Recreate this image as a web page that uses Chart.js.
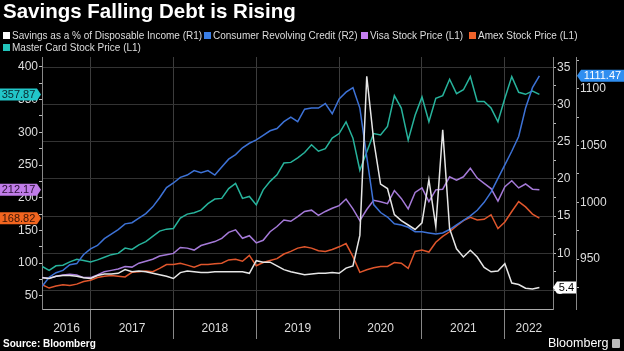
<!DOCTYPE html>
<html>
<head>
<meta charset="utf-8">
<script src="https://cdn.jsdelivr.net/npm/chart.js@4.4.1/dist/chart.umd.min.js"></script>
<style>
  html, body { margin: 0; padding: 0; background: #000; }
  #wrap { position: relative; width: 624px; height: 351px; overflow: hidden; font-family: "Liberation Sans", Arial, sans-serif; color: #ddd; }
  #grafico { position: absolute; left: 0; top: 0; }
  .titulo { position: absolute; left: 3px; top: -1px; font-size: 20.5px; font-weight: bold; color: #fff; }
  .leg { position: absolute; font-size: 10px; color: #ddd; white-space: nowrap; line-height: 11px; }
  .leg i { display: inline-block; width: 7px; height: 7px; margin-right: 2px; }
  .fonte { position: absolute; left: 3px; top: 338px; font-size: 10px; font-weight: bold; color: #fff; }
  .marca { position: absolute; left: 548px; top: 336px; font-size: 12.5px; color: #fff; }
  .marca b { display: inline-block; width: 8px; height: 9px; background: #bbb; border-radius: 1px; margin-left: 4px; vertical-align: -1px; }
</style>
</head>
<body>
<div id="wrap">
  <canvas id="grafico" width="624" height="351"></canvas>
  <div class="titulo">Savings Falling Debt is Rising</div>
  <div class="leg" style="left:3px;top:30px"><i style="background:#fff"></i>Savings as a % of Disposable Income (R1)</div>
  <div class="leg" style="left:204px;top:30px"><i style="background:#3a7ee6"></i>Consumer Revolving Credit (R2)</div>
  <div class="leg" style="left:361px;top:30px"><i style="background:#c47ef0"></i>Visa Stock Price (L1)</div>
  <div class="leg" style="left:469px;top:30px"><i style="background:#f0632a"></i>Amex Stock Price (L1)</div>
  <div class="leg" style="left:3px;top:42px"><i style="background:#22c4bb"></i>Master Card Stock Price (L1)</div>
  <div class="fonte">Source: Bloomberg</div>
  <div class="marca">Bloomberg<b></b></div>
</div>
<script>
// meses: fim de maio/2016 até fim de maio/2022
const mesInicial = 2016 + 5 / 12;

const poupanca = [6.7, 6.6, 6.9, 7.0, 7.0, 6.9, 6.7, 6.6, 7.0, 7.2, 7.2, 7.3, 7.8, 7.5, 7.6, 7.5, 7.3, 7.1, 6.9,
  6.6, 7.4, 7.6, 7.5, 7.4, 7.4, 7.5, 7.5, 7.5, 7.5, 7.5, 7.3, 9.0, 8.8, 8.8, 8.3, 7.8, 7.5,
  7.3, 7.1, 7.2, 7.3, 7.3, 7.4, 7.3, 8.0, 8.3, 12.4, 33.8, 25.2, 19.3, 18.7, 15.2, 14.4, 13.8, 13.2,
  14.1, 19.9, 13.6, 26.6, 13.3, 10.6, 9.5, 10.4, 9.5, 8.1, 7.5, 7.6, 8.6, 6.0, 5.8, 5.3, 5.2, 5.4];

const credito = [926, 934, 938, 940, 945, 946, 954, 959, 962, 968, 972, 976, 981, 982, 986, 990, 996, 1004, 1013,
  1017, 1022, 1024, 1028, 1026, 1028, 1024, 1031, 1038, 1042, 1048, 1052, 1055, 1059, 1063, 1065, 1071, 1075,
  1071, 1082, 1083, 1083, 1087, 1078, 1091, 1097, 1101, 1083, 1040, 998, 991, 987, 981, 980, 978, 974,
  974, 973, 972, 973, 976, 980, 984, 988, 993, 1000, 1009, 1021, 1033, 1045, 1058, 1083, 1101, 1111.47];

const visa = [78, 77, 80, 82, 83, 82, 78, 78, 82, 87, 89, 91, 95, 94, 100, 103, 106, 111, 113,
  115, 124, 123, 120, 127, 130, 133, 138, 147, 151, 138, 142, 131, 135, 148, 156, 166, 164,
  171, 179, 181, 173, 179, 184, 188, 198, 183, 165, 182, 196, 194, 191, 211, 199, 183, 208,
  215, 194, 212, 213, 232, 227, 232, 245, 230, 222, 214, 195, 217, 226, 215, 221, 213, 212.17];

const amex = [67, 62, 65, 67, 66, 68, 72, 74, 78, 80, 81, 80, 79, 86, 87, 88, 87, 92, 98,
  98, 100, 97, 94, 98, 98, 99, 100, 105, 106, 103, 112, 96, 101, 104, 107, 114, 118,
  123, 125, 123, 119, 118, 121, 125, 130, 110, 86, 90, 93, 95, 95, 101, 100, 92, 118,
  120, 117, 132, 141, 148, 157, 165, 170, 166, 167, 174, 153, 163, 179, 194, 186, 175, 168.82];

const mastercard = [95, 89, 96, 97, 102, 106, 104, 102, 105, 109, 113, 115, 123, 121, 128, 133, 141, 149, 152,
  153, 169, 175, 177, 181, 191, 198, 199, 214, 222, 199, 202, 189, 212, 225, 235, 253, 254,
  261, 269, 281, 271, 275, 291, 298, 316, 291, 242, 270, 298, 296, 309, 356, 337, 288, 326,
  354, 316, 352, 356, 381, 359, 365, 385, 347, 347, 337, 316, 352, 385, 361, 358, 363, 357.87];

// divisões de ano e posição dos rótulos de ano
const divisoesAno = [2017, 2018, 2019, 2020, 2021, 2022];
const rotulosAno = [2016.71, 2017.5, 2018.5, 2019.5, 2020.5, 2021.5, 2022.29];
const ticksEsq = [50, 75, 100, 125, 150, 175, 200, 225, 250, 275, 300, 325, 350, 375, 400];
const ticksR1 = [5, 7.5, 10, 12.5, 15, 17.5, 20, 22.5, 25, 27.5, 30, 32.5, 35];
const ticksR2 = [925, 950, 975, 1000, 1025, 1050, 1075, 1100, 1125];

const CORES = {
  poupanca: '#e6e6e6',
  credito: '#3d72d6',
  visa: '#a57ad8',
  amex: '#e0562c',
  mastercard: '#27b39c'
};

function pontos(valores) {
  return valores.map((v, i) => ({ x: mesInicial + i / 12, y: v }));
}

function serie(rotulo, valores, cor, eixo) {
  return {
    label: rotulo,
    data: pontos(valores),
    borderColor: cor,
    borderWidth: 1.5,
    pointRadius: 0,
    fill: false,
    tension: 0,
    yAxisID: eixo
  };
}

/* etiquetas com o último valor, no estilo Bloomberg */
function etiqueta(ctx, y, x0, x1, ponta, lado, fundo, corTexto, texto) {
  const h = 12;
  ctx.save();
  ctx.fillStyle = fundo;
  ctx.beginPath();
  if (lado === 'dir') {
    ctx.moveTo(x0, y - h / 2);
    ctx.lineTo(x1, y - h / 2);
    ctx.lineTo(ponta, y);
    ctx.lineTo(x1, y + h / 2);
    ctx.lineTo(x0, y + h / 2);
  } else {
    ctx.moveTo(ponta, y);
    ctx.lineTo(x0, y - h / 2);
    ctx.lineTo(x1, y - h / 2);
    ctx.lineTo(x1, y + h / 2);
    ctx.lineTo(x0, y + h / 2);
  }
  ctx.closePath();
  ctx.fill();
  ctx.fillStyle = corTexto;
  ctx.font = '11px "Liberation Sans", Arial, sans-serif';
  ctx.textAlign = 'center';
  ctx.textBaseline = 'middle';
  ctx.fillText(texto, (x0 + x1) / 2, y + 0.5);
  ctx.restore();
}

const pluginEtiquetas = {
  id: 'etiquetas',
  afterDraw(chart) {
    const ctx = chart.ctx;
    const yEsq = chart.scales.y;
    const yR1 = chart.scales.yR1;
    const yR2 = chart.scales.yR2;
    const ultimo = arr => arr[arr.length - 1];

    etiqueta(ctx, yEsq.getPixelForValue(ultimo(mastercard)), 0, 37, 41, 'dir', '#22c6c8', '#0a2a30', ultimo(mastercard).toFixed(2));
    etiqueta(ctx, yEsq.getPixelForValue(ultimo(visa)), 0, 37, 41, 'dir', '#c07ce8', '#2a1035', ultimo(visa).toFixed(2));
    etiqueta(ctx, yEsq.getPixelForValue(ultimo(amex)), 0, 37, 41, 'dir', '#f2651f', '#3a1405', ultimo(amex).toFixed(2));
    etiqueta(ctx, yR2.getPixelForValue(ultimo(credito)), 581, 624, 577, 'esq', '#2f8ef0', '#ffffff', ultimo(credito).toFixed(2));
    etiqueta(ctx, yR1.getPixelForValue(ultimo(poupanca)), 557, 576, 553, 'esq', '#ffffff', '#000000', ultimo(poupanca).toFixed(1));
  }
};

const fonteEixo = { family: '"Liberation Sans", Arial, sans-serif', size: 12 };

new Chart(document.getElementById('grafico').getContext('2d'), {
  type: 'line',
  data: {
    datasets: [
      serie('Savings as a % of Disposable Income (R1)', poupanca, CORES.poupanca, 'yR1'),
      serie('Consumer Revolving Credit (R2)', credito, CORES.credito, 'yR2'),
      serie('Visa Stock Price (L1)', visa, CORES.visa, 'y'),
      serie('Amex Stock Price (L1)', amex, CORES.amex, 'y'),
      serie('Master Card Stock Price (L1)', mastercard, CORES.mastercard, 'y')
    ]
  },
  options: {
    responsive: false,
    animation: false,
    devicePixelRatio: 1,
    layout: { padding: { top: 57, bottom: 10, left: 0, right: 0 } },
    plugins: { legend: { display: false }, tooltip: { enabled: false } },
    scales: {
      x: {
        type: 'linear',
        min: 2016.414,
        max: 2022.581,
        afterBuildTicks: s => { s.ticks = divisoesAno.concat(rotulosAno).map(v => ({ value: v })); },
        afterFit: s => { s.height = 32; },
        ticks: {
          color: '#ddd',
          font: fonteEixo,
          maxRotation: 0,
          autoSkip: false,
          padding: -18,
          callback: v => Number.isInteger(v) ? '' : String(Math.floor(v))
        },
        grid: {
          color: c => (c.tick && Number.isInteger(c.tick.value)) ? '#3c3c3c' : 'rgba(0,0,0,0)',
          tickColor: c => (c.tick && Number.isInteger(c.tick.value)) ? '#888' : 'rgba(0,0,0,0)',
          tickLength: 30
        },
        border: { color: '#aaa' }
      },
      y: {
        position: 'left',
        min: 30,
        max: 415,
        afterBuildTicks: s => { s.ticks = ticksEsq.map(v => ({ value: v })); },
        afterFit: s => { s.width = 42; },
        ticks: {
          color: '#ddd',
          font: fonteEixo,
          padding: 1,
          callback: v => v % 50 === 0 ? String(v) : ''
        },
        grid: { drawOnChartArea: false, tickLength: 3, tickColor: '#bbb' },
        border: { color: '#888' }
      },
      yR1: {
        position: 'right',
        weight: 0,
        min: 2.5,
        max: 36.4,
        afterBuildTicks: s => { s.ticks = ticksR1.map(v => ({ value: v })); },
        afterFit: s => { s.width = 23; },
        ticks: {
          color: '#ddd',
          font: fonteEixo,
          padding: 1,
          callback: v => v % 5 === 0 ? String(v) : ''
        },
        grid: {
          color: c => (c.tick && c.tick.value % 5 === 0) ? '#333' : 'rgba(0,0,0,0)',
          tickColor: '#bbb',
          tickLength: 3
        },
        border: { color: '#888' }
      },
      yR2: {
        position: 'right',
        weight: 1,
        min: 906,
        max: 1128,
        afterBuildTicks: s => { s.ticks = ticksR2.map(v => ({ value: v })); },
        afterFit: s => { s.width = 48; },
        ticks: {
          color: '#ddd',
          font: fonteEixo,
          padding: 1,
          callback: v => v % 50 === 0 ? String(v) : ''
        },
        grid: { drawOnChartArea: false, tickLength: 3, tickColor: '#bbb' },
        border: { color: '#888' }
      }
    }
  },
  plugins: [pluginEtiquetas]
});
</script>
</body>
</html>
